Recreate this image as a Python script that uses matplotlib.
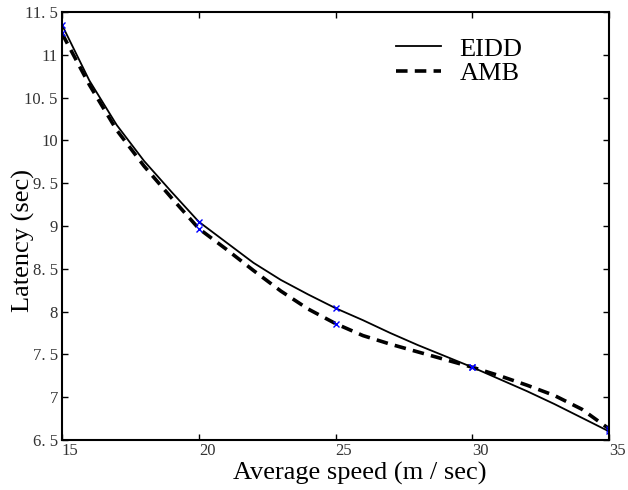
import matplotlib
matplotlib.use('Agg')
import matplotlib.pyplot as plt
from matplotlib.transforms import ScaledTranslation

# values at each 1 m/s
speed = [15, 16, 17, 18, 19, 20, 21, 22, 23, 24, 25, 26, 27, 28, 29, 30, 31, 32, 33, 34, 35]
eidd = [11.35, 10.70, 10.18, 9.76, 9.40, 9.05, 8.81, 8.57, 8.37, 8.20, 8.04,
        7.90, 7.75, 7.61, 7.48, 7.35, 7.21, 7.07, 6.92, 6.76, 6.60]
amb = [11.25, 10.65, 10.12, 9.70, 9.33, 8.97, 8.73, 8.48, 8.24, 8.03, 7.86,
       7.72, 7.62, 7.53, 7.44, 7.35, 7.25, 7.14, 7.02, 6.86, 6.63]

# measured points (blue crosses)
pt_speed = [15, 20, 25, 30, 35]
pt_eidd = [11.35, 9.05, 8.04, 7.35, 6.60]
pt_amb = [11.25, 8.97, 7.86, 7.35, 6.63]

xticks = [15, 20, 25, 30, 35]
yticks = [6.5, 7, 7.5, 8, 8.5, 9, 9.5, 10, 10.5, 11, 11.5]
ytick_labels = ['6. 5', '7', '7. 5', '8', '8. 5', '9', '9. 5', '10', '10. 5', '11', '11. 5']

fig = plt.figure(figsize=(6.28, 4.9), dpi=100)
ax = fig.add_axes([0.0987, 0.102, 0.8713, 0.8735])

ax.plot(speed, eidd, color='black', lw=1.3, label='EIDD')
ax.plot(speed, amb, color='black', lw=2.6, dashes=(3.2, 2.0), label='AMB')
ax.plot(pt_speed, pt_eidd, 'x', color='blue', ms=5, mew=1)
ax.plot(pt_speed, pt_amb, 'x', color='blue', ms=5, mew=1)

ax.set_xlim(15, 35)
ax.set_ylim(6.5, 11.5)
ax.set_xticks(xticks)
ax.set_xticklabels([str(t) for t in xticks], fontname='Liberation Serif', fontsize=12,
                   ha='left', color='#333333')
off = ScaledTranslation(2 / 72, 0, fig.dpi_scale_trans)
for lab in ax.get_xticklabels():
    lab.set_transform(lab.get_transform() + off)
ax.set_yticks(yticks)
ax.set_yticklabels(ytick_labels, fontname='Liberation Serif', fontsize=12, color='#333333')
ax.tick_params(direction='in', top=True, right=True, length=4, width=1, pad=3)
ax.tick_params(axis='x', pad=2)
for s in ax.spines.values():
    s.set_linewidth(1.5)

ax.set_xlabel('Average speed (m / sec)', fontname='Liberation Serif', fontsize=19)
ax.set_ylabel('Latency (sec)', fontname='Liberation Serif', fontsize=19)
ax.xaxis.set_label_coords(0.545, -0.05)
ax.yaxis.set_label_coords(-0.05, 0.467)

leg = ax.legend(loc='upper right', bbox_to_anchor=(0.885, 0.997), frameon=False,
                prop={'family': 'Liberation Serif', 'size': 19}, handlelength=1.7,
                handletextpad=0.7, labelspacing=0.05)

fig.savefig('out.png', dpi=100)
